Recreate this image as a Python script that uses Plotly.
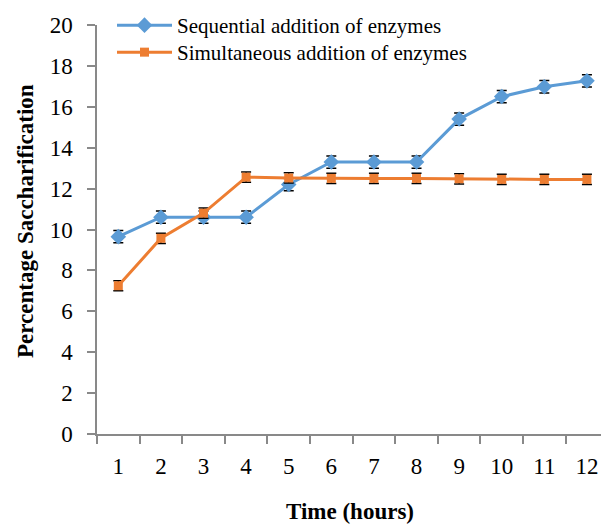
import plotly.graph_objects as go

hours = [1, 2, 3, 4, 5, 6, 7, 8, 9, 10, 11, 12]
sequential = [9.65, 10.6, 10.6, 10.6, 12.2, 13.3, 13.3, 13.3, 15.4, 16.5, 16.98, 17.27]
sequential_err = [0.3] * 12
simultaneous = [7.25, 9.57, 10.8, 12.56, 12.52, 12.5, 12.5, 12.5, 12.48, 12.45, 12.45, 12.45]
simultaneous_err = [0.25] * 12
y_ticks = [0, 2, 4, 6, 8, 10, 12, 14, 16, 18, 20]

FONT = "Liberation Serif"
BLUE = "#5B9BD5"
ORANGE = "#ED7D31"
AXIS = "#898989"

W, H = 601, 527
L, R, T, B = 97, 0, 25, 93
PW, PH = W - L - R, H - T - B

fig = go.Figure()
fig.add_trace(go.Scatter(
    x=hours, y=sequential, name="Sequential addition of enzymes",
    mode="lines+markers", legend="legend",
    line=dict(color=BLUE, width=3),
    marker=dict(symbol="diamond", size=12, color=BLUE),
    error_y=dict(type="data", array=sequential_err, color="black", thickness=1.5, width=5),
))
fig.add_trace(go.Scatter(
    x=hours, y=simultaneous, name="Simultaneous addition of enzymes",
    mode="lines+markers", legend="legend2",
    line=dict(color=ORANGE, width=3),
    marker=dict(symbol="square", size=9, color=ORANGE),
    error_y=dict(type="data", array=simultaneous_err, color="black", thickness=1.5, width=5),
))

legend_common = dict(xref="paper", yref="container", xanchor="left", yanchor="top",
                     itemwidth=55, font=dict(family=FONT, size=21, color="black"),
                     bgcolor="rgba(0,0,0,0)")

fig.update_layout(
    width=W, height=H,
    margin=dict(l=L, r=R, t=T, b=B, autoexpand=False),
    paper_bgcolor="white", plot_bgcolor="white",
    font=dict(family=FONT, size=23, color="black"),
    showlegend=True,
    legend=dict(x=(112 - L) / PW, y=1 - 5 / H, **legend_common),
    legend2=dict(x=(112 - L) / PW, y=1 - 32 / H, **legend_common),
    xaxis=dict(
        range=[0.5, 12.33], automargin=False,
        tickvals=hours, ticktext=[str(h) for h in hours],
        tickfont=dict(family=FONT, size=23, color="black"),
        ticks="", ticklabelstandoff=11,
        showline=True, linecolor=AXIS, linewidth=1.5,
        showgrid=False, zeroline=False,
        minor=dict(tickvals=[h - 0.5 for h in hours] + [12.5], ticks="outside",
                   ticklen=8, tickcolor=AXIS, tickwidth=1.5, showgrid=False),
    ),
    yaxis=dict(
        range=[0, 20], automargin=False,
        tickvals=y_ticks,
        tickfont=dict(family=FONT, size=23, color="black"),
        ticks="outside", ticklen=8, tickcolor=AXIS, tickwidth=1.5, ticklabelstandoff=10,
        showline=True, linecolor=AXIS, linewidth=1.5,
        showgrid=False, zeroline=False,
    ),
    annotations=[
        dict(text="<b>Time (hours)</b>", xref="paper", yref="paper",
             x=(350 - L) / PW, y=(H - B - 512) / PH, xanchor="center", yanchor="middle",
             showarrow=False, font=dict(family=FONT, size=23, color="black")),
        dict(text="<b>Percentage Saccharification</b>", xref="paper", yref="paper",
             x=(25 - L) / PW, y=(H - B - 221) / PH, xanchor="center", yanchor="middle",
             textangle=-90, showarrow=False, font=dict(family=FONT, size=23, color="black")),
    ],
)

fig.write_html("out.html", config={"displayModeBar": False},
               post_script="document.body.style.margin='0';")
